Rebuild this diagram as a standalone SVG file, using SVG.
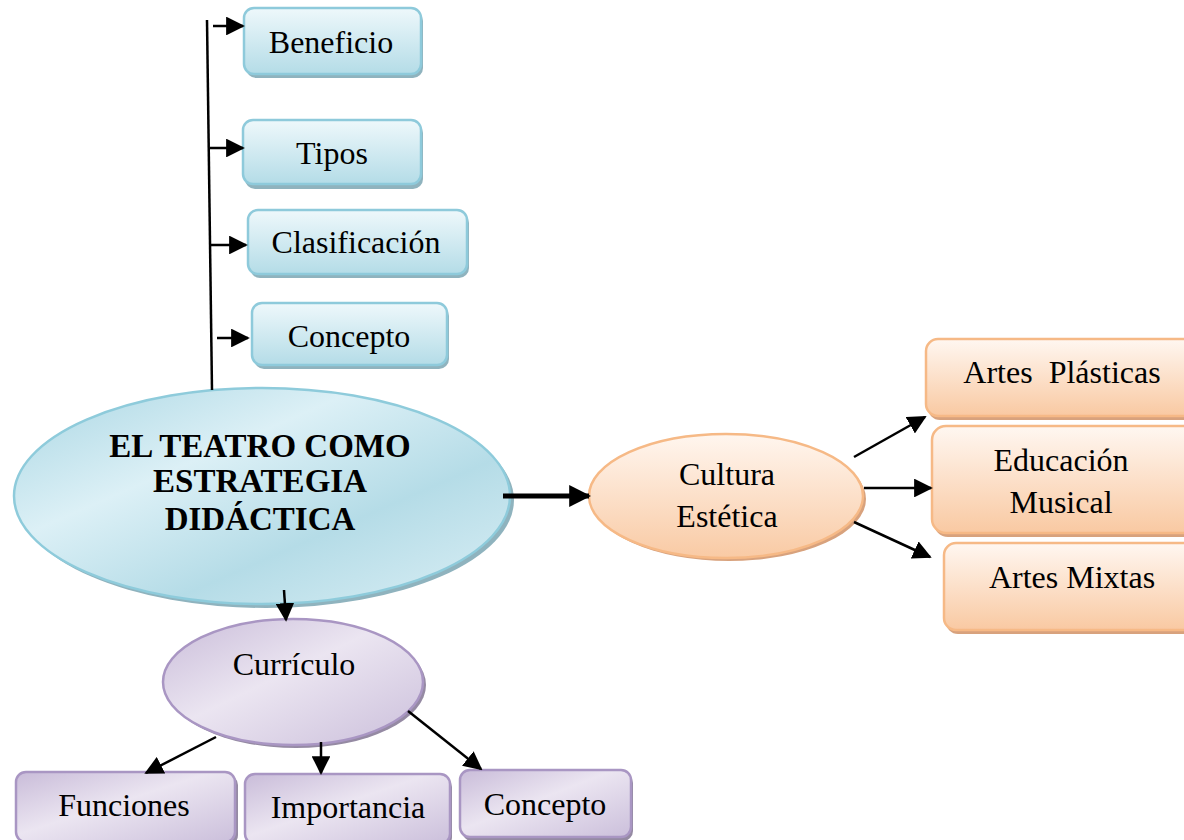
<svg xmlns="http://www.w3.org/2000/svg" width="1184" height="840" viewBox="0 0 1184 840">
<defs>
  <linearGradient id="gBlueBox" x1="0" y1="0" x2="0" y2="1">
    <stop offset="0" stop-color="#eef8fb"/>
    <stop offset="1" stop-color="#b4dce7"/>
  </linearGradient>
  <linearGradient id="gOrange" x1="0" y1="0" x2="0" y2="1">
    <stop offset="0" stop-color="#fff7f1"/>
    <stop offset="1" stop-color="#f9c9a2"/>
  </linearGradient>
  <linearGradient id="gOrangeEl" x1="0" y1="0" x2="0" y2="1">
    <stop offset="0" stop-color="#fff6ef"/>
    <stop offset="1" stop-color="#f9caa4"/>
  </linearGradient>
  <linearGradient id="gPurple" x1="0" y1="0" x2="1" y2="1">
    <stop offset="0" stop-color="#c9bcd9"/>
    <stop offset="0.45" stop-color="#ebe5f1"/>
    <stop offset="1" stop-color="#cbbfdb"/>
  </linearGradient>
  <linearGradient id="gMain" x1="0" y1="0" x2="1" y2="1">
    <stop offset="0" stop-color="#a9d6e3"/>
    <stop offset="0.35" stop-color="#dcf0f6"/>
    <stop offset="0.65" stop-color="#b5dce7"/>
    <stop offset="1" stop-color="#dbeff5"/>
  </linearGradient>
  <marker id="ahs" viewBox="0 0 10 10" refX="9" refY="5" markerWidth="7.5" markerHeight="7.5" orient="auto">
    <path d="M0,0 L10,5 L0,10 z" fill="#000"/>
  </marker>
  <marker id="ahb" viewBox="0 0 10 10" refX="9" refY="5" markerWidth="4.4" markerHeight="4.4" orient="auto">
    <path d="M0,0 L10,5 L0,10 z" fill="#000"/>
  </marker>
</defs>
<style>
  text { font-family: "Liberation Serif", "Times New Roman", serif; fill: #000; text-anchor: middle; }
  .lbl { font-size: 32px; }
  .pre { white-space: pre; }
  .main { font-size: 33px; font-weight: bold; }
  .blue { fill: url(#gBlueBox); stroke: #8ecadb; stroke-width: 2.5; }
  .orange { fill: url(#gOrange); stroke: #f6b986; stroke-width: 2.5; }
  .purple { fill: url(#gPurple); stroke: #a996c3; stroke-width: 2.5; }
  .shB { fill: #8fb3be; }
  .shO { fill: #d8a27d; }
  .shP { fill: #958aa3; }
  .con { stroke: #000; stroke-width: 2.5; fill: none; }
</style>

<g id="beneficio">
  <rect class="shB" x="246" y="11" width="177" height="67" rx="10"/>
  <rect class="blue" x="244" y="8" width="177" height="66" rx="10"/>
  <text class="lbl" x="331" y="53">Beneficio</text>
</g>
<g id="tipos">
  <rect class="shB" x="245" y="123" width="178" height="66" rx="10"/>
  <rect class="blue" x="243" y="120" width="178" height="64" rx="10"/>
  <text class="lbl" x="332" y="164">Tipos</text>
</g>
<g id="clasificacion">
  <rect class="shB" x="250" y="213" width="219" height="65" rx="10"/>
  <rect class="blue" x="248" y="210" width="219" height="64" rx="10"/>
  <text class="lbl" x="356" y="253">Clasificación</text>
</g>
<g id="concepto-top">
  <rect class="shB" x="254" y="306" width="195" height="63" rx="10"/>
  <rect class="blue" x="252" y="303" width="195" height="62" rx="10"/>
  <text class="lbl" x="349" y="347">Concepto</text>
</g>

<g id="el-teatro">
  <ellipse cx="266" cy="500" rx="248" ry="108" fill="#8fb3be"/>
  <ellipse cx="262" cy="496" rx="248" ry="108" fill="url(#gMain)" stroke="#8ecbdb" stroke-width="2.5"/>
  <text class="main" x="260" y="457">EL TEATRO COMO</text>
  <text class="main" x="260" y="492">ESTRATEGIA</text>
  <text class="main" x="260" y="530">DIDÁCTICA</text>
</g>

<g id="cultura">
  <ellipse cx="729" cy="499" rx="137" ry="62" fill="#d8a27d"/>
  <ellipse cx="726" cy="496" rx="137" ry="62" fill="url(#gOrangeEl)" stroke="#f6b986" stroke-width="2.5"/>
  <text class="lbl" x="727" y="485">Cultura</text>
  <text class="lbl" x="727" y="527">Estética</text>
</g>

<g id="artes-plasticas">
  <rect class="shO" x="928" y="342" width="270" height="78" rx="12"/>
  <rect class="orange" x="926" y="339" width="270" height="77" rx="12"/>
  <text class="lbl pre" x="1062" y="383" xml:space="preserve">Artes  Plásticas</text>
</g>
<g id="educacion-musical">
  <rect class="shO" x="934" y="429" width="270" height="108" rx="14"/>
  <rect class="orange" x="932" y="426" width="270" height="107" rx="14"/>
  <text class="lbl" x="1061" y="471">Educación</text>
  <text class="lbl" x="1061" y="513">Musical</text>
</g>
<g id="artes-mixtas">
  <rect class="shO" x="946" y="546" width="260" height="88" rx="12"/>
  <rect class="orange" x="944" y="543" width="260" height="87" rx="12"/>
  <text class="lbl" x="1072" y="588">Artes Mixtas</text>
</g>

<g id="curriculo">
  <ellipse cx="296" cy="685" rx="130" ry="63" fill="#958aa3"/>
  <ellipse cx="293" cy="682" rx="130" ry="63" fill="url(#gPurple)" stroke="#a996c3" stroke-width="2.5"/>
  <text class="lbl" x="294" y="675">Currículo</text>
</g>

<g id="funciones">
  <rect class="shP" x="18" y="775" width="220" height="70" rx="10"/>
  <rect class="purple" x="16" y="772" width="219" height="70" rx="10"/>
  <text class="lbl" x="124" y="816">Funciones</text>
</g>
<g id="importancia">
  <rect class="shP" x="247" y="777" width="205" height="70" rx="10"/>
  <rect class="purple" x="245" y="774" width="205" height="70" rx="10"/>
  <text class="lbl" x="348" y="818">Importancia</text>
</g>
<g id="concepto-bottom">
  <rect class="shP" x="462" y="773" width="171" height="68" rx="10"/>
  <rect class="purple" x="460" y="770" width="171" height="67" rx="10"/>
  <text class="lbl" x="545" y="815">Concepto</text>
</g>

<g id="connectors">
  <line class="con" x1="207" y1="20" x2="212" y2="390"/>
  <line class="con" x1="213" y1="26" x2="243" y2="26" marker-end="url(#ahs)"/>
  <line class="con" x1="210" y1="148" x2="243" y2="148" marker-end="url(#ahs)"/>
  <line class="con" x1="211" y1="245" x2="246" y2="245" marker-end="url(#ahs)"/>
  <line class="con" x1="217" y1="338" x2="248" y2="338" marker-end="url(#ahs)"/>
  <line x1="503" y1="496" x2="589" y2="496" stroke="#000" stroke-width="5" marker-end="url(#ahb)"/>
  <line class="con" x1="854" y1="457" x2="925" y2="417" marker-end="url(#ahs)"/>
  <line class="con" x1="864" y1="488" x2="931" y2="488" marker-end="url(#ahs)"/>
  <line class="con" x1="854" y1="522" x2="930" y2="557" marker-end="url(#ahs)"/>
  <line class="con" x1="284" y1="590" x2="286" y2="620" marker-end="url(#ahs)"/>
  <line class="con" x1="216" y1="737" x2="146" y2="773" marker-end="url(#ahs)"/>
  <line class="con" x1="321" y1="742" x2="321" y2="773" marker-end="url(#ahs)"/>
  <line class="con" x1="408" y1="711" x2="481" y2="769" marker-end="url(#ahs)"/>
</g>
</svg>
